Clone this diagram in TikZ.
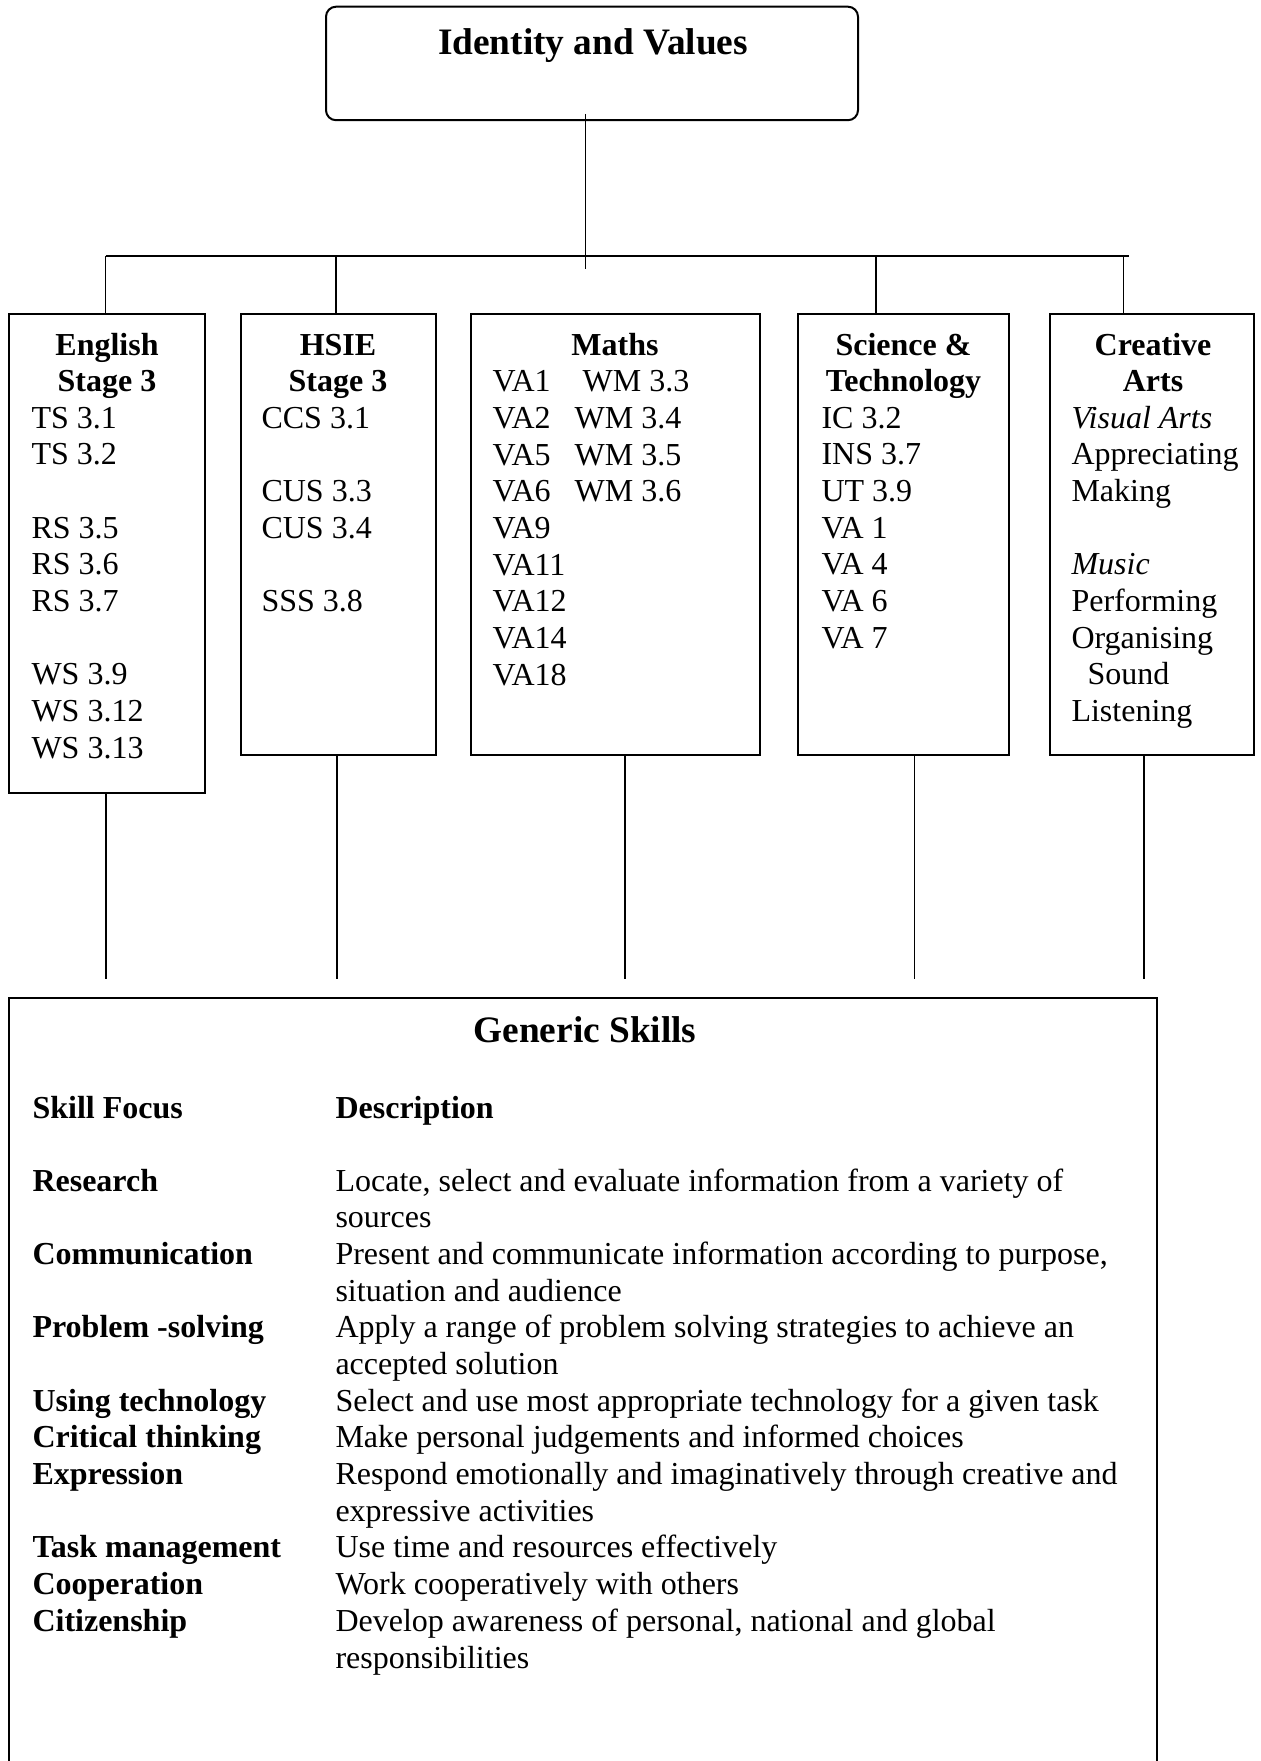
\documentclass[tikz,border=0pt]{standalone}
\usepackage{fontspec}
\setmainfont{Liberation Serif}
\newcommand\mystack[2][l]{\begin{tabular}[t]{@{}#1@{}}#2\end{tabular}}
\begin{document}
\begin{tikzpicture}[x=0.375bp,y=-0.375bp,
  box/.style={draw, line width=0.75bp, inner sep=0, outer sep=0, anchor=north west},
  conn/.style={line width=0.6bp},
  hd/.style={font=\fontsize{12bp}{13.76bp}\selectfont\bfseries, inner sep=0, anchor=base},
  txt/.style={font=\fontsize{12bp}{13.76bp}\selectfont, inner sep=0, anchor=base west},
  btxt/.style={txt, font=\fontsize{12bp}{13.76bp}\selectfont\bfseries},
  big/.style={font=\fontsize{14bp}{16bp}\selectfont\bfseries, inner sep=0, anchor=base},
]
\useasboundingbox (0,0) rectangle (1261,1761);

% top box
\node[box, rounded corners=3.75bp, minimum width={532*0.375bp}, minimum height={113.5*0.375bp}] (iv) at (326,6.7) {};
\node[big] (ivt) at (593,55) {Identity and Values};

% subject boxes
\node[box, minimum width={196*0.375bp}, minimum height={479*0.375bp}] (eng) at (9,314) {};
\node[box, minimum width={195.3*0.375bp}, minimum height={441*0.375bp}] (hsie) at (240.7,314) {};
\node[box, minimum width={289*0.375bp}, minimum height={441*0.375bp}] (maths) at (471,314) {};
\node[box, minimum width={211*0.375bp}, minimum height={441*0.375bp}] (sci) at (798,314) {};
\node[box, minimum width={204*0.375bp}, minimum height={441*0.375bp}] (arts) at (1050,314) {};

% connectors from top
\coordinate (hub) at (585.5,269);
\coordinate (bl) at (105.5,256);
\coordinate (br) at (1129,256);
\coordinate (b2) at (336,256);
\coordinate (b3) at (876,256);
\coordinate (b4) at (1123.5,256);
\draw[conn] ([xshift={-6.5*0.375bp}, yshift={6.2*0.375bp}]iv.south) -- (hub);
\draw[conn] (bl) -- (br);
\draw[conn] (bl) -- (bl |- eng.north);
\draw[conn] (b2) -- (b2 |- hsie.north);
\draw[conn] (b3) -- (b3 |- sci.north);
\draw[conn] (b4) -- (b4 |- arts.north);

% box texts
\node[hd] (engh) at (107,355) {\mystack[c]{English\\Stage 3}};
\node[txt] (engl) at (31,428) {\mystack{TS 3.1\\TS 3.2\\[13.76bp]RS 3.5\\RS 3.6\\RS 3.7\\[13.76bp]WS 3.9\\WS 3.12\\WS 3.13}};

\node[hd] (hsieh) at (338,355) {\mystack[c]{HSIE\\Stage 3}};
\node[txt] (hsiel) at (261,428) {\mystack{CCS 3.1\\[13.76bp]CUS 3.3\\CUS 3.4\\[13.76bp]SSS 3.8}};

\node[hd] (mathsh) at (615,355) {Maths};
\node[txt] (mathsl) at (492,391.7) {\mystack{VA1~~~~WM 3.3\\VA2~~~WM 3.4\\VA5~~~WM 3.5\\VA6~~~WM 3.6\\VA9\\VA11\\VA12\\VA14\\VA18}};

\node[hd] (scih) at (903.5,355) {\mystack[c]{Science \&\\Technology}};
\node[txt] (scil) at (821,428) {\mystack{IC 3.2\\INS 3.7\\UT 3.9\\VA 1\\VA 4\\VA 6\\VA 7}};

\node[hd] (artsh) at (1153,355) {\mystack[c]{Creative\\Arts}};
\node[txt] (artsl) at (1071,428) {\mystack{\textit{Visual Arts}\\Appreciating\\Making\\[13.76bp]\textit{Music}\\Performing\\Organising\\\hspace*{6bp}Sound\\Listening}};

% lower connectors
\coordinate (d1) at (105.7,979);
\coordinate (d2) at (337,979);
\coordinate (d3) at (625,979);
\coordinate (d4) at (914.5,979);
\coordinate (d5) at (1144,979);
\draw[conn] (d1 |- eng.south) -- (d1);
\draw[conn] (d2 |- hsie.south) -- (d2);
\draw[conn] (d3 |- maths.south) -- (d3);
\draw[conn] (d4 |- sci.south) -- (d4);
\draw[conn] (d5 |- arts.south) -- (d5);

% generic skills box (cut off at the bottom)
\node[inner sep=0, outer sep=0, anchor=north west, minimum width={1148*0.375bp}, minimum height={764*0.375bp}] (gen) at (9,998) {};
\draw[line width=0.75bp] (gen.south west) -- (gen.north west) -- (gen.north east) -- (gen.south east);

\node[big] (gent) at (585,1042) {Generic Skills};
\node[btxt] (sfh) at (32,1118) {Skill Focus};
\node[btxt] (deh) at (335,1118) {Description};
\node[btxt] (sfl) at (32,1191) {\mystack{Research\\[13.76bp]Communication\\[13.76bp]Problem -solving\\[13.76bp]Using technology\\Critical thinking\\Expression\\[13.76bp]Task management\\Cooperation\\Citizenship}};
\node[txt] (del) at (335,1191) {\mystack{Locate, select and evaluate information from a variety of\\sources\\Present and communicate information according to purpose,\\situation and audience\\Apply a range of problem solving strategies to achieve an\\accepted solution\\Select and use most appropriate technology for a given task\\Make personal judgements and informed choices\\Respond emotionally and imaginatively through creative and\\expressive activities\\Use time and resources effectively\\Work cooperatively with others\\Develop awareness of personal, national and global\\responsibilities}};
\end{tikzpicture}
\end{document}
